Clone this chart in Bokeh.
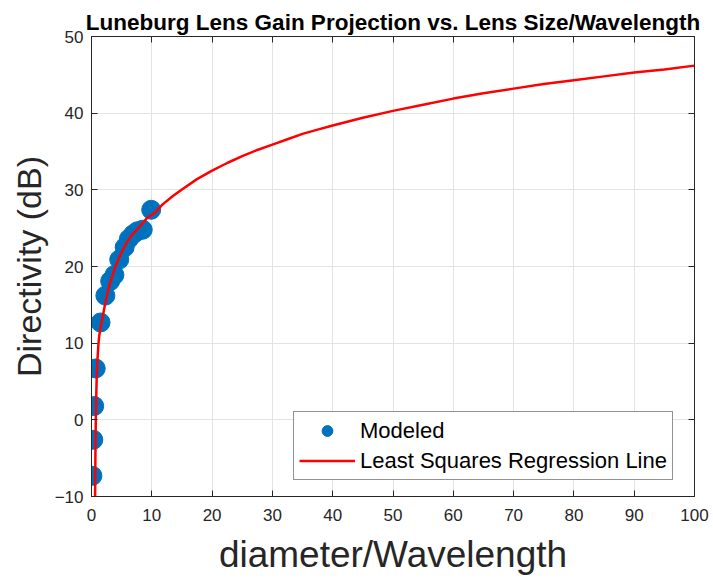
from bokeh.plotting import figure
from bokeh.models import ColumnDataSource, Legend, LegendItem, LinearAxis, Range1d, FixedTicker, CustomJSTickFormatter
from bokeh.embed import file_html
from bokeh.resources import INLINE

# Modeled data points
modeled_x = [0.15, 0.3, 0.45, 0.7, 1.5, 2.3, 3.1, 3.8, 4.6, 5.5, 6.2, 6.9, 7.6, 8.5, 9.9]
modeled_y = [-7.3, -2.6, 1.8, 6.7, 12.7, 16.2, 18.1, 18.9, 20.9, 22.5, 23.6, 24.2, 24.6, 24.8, 27.4]

# Regression line
fit_x = [0.58, 0.6, 0.65, 0.71, 0.8, 0.88, 1.0, 1.16, 1.28, 1.4, 1.6, 1.82, 2.1, 2.37, 2.7, 3.04,
         3.5, 3.92, 4.5, 5.15, 5.9, 6.8, 8.0, 9.3, 10.5, 11.8, 13.5, 15, 17.5, 20, 22.5, 25, 27.5,
         30, 32.5, 35, 37.5, 40, 45, 50, 55, 60, 65, 70, 75, 80, 85, 90, 95, 100]
fit_y = [-12.0, -10.0, -4.5, 0.0, 3.5, 6.1, 8.0, 10.0, 10.9, 11.6, 12.5, 13.3, 14.5, 15.5, 16.7, 17.7,
         18.9, 19.9, 21.0, 22.1, 23.2, 24.2, 25.2, 26.4, 27.0, 28.1, 29.2, 30.05, 31.4, 32.5, 33.5, 34.4, 35.2,
         35.9, 36.6, 37.3, 37.85, 38.4, 39.4, 40.3, 41.1, 41.9, 42.6, 43.2, 43.8, 44.3, 44.8, 45.3, 45.7, 46.2]

x_ticks = list(range(0, 101, 10))
y_ticks = list(range(-10, 51, 10))

FONT = "Liberation Sans"
TXT = "#262626"
AX = "#262626"

p = figure(width=713, height=582, output_backend="svg", toolbar_location=None,
           x_range=Range1d(0, 100), y_range=Range1d(-10, 50),
           min_border_left=91, min_border_right=19, min_border_top=36, min_border_bottom=86)

p.title.text = "Luneburg Lens Gain Projection vs. Lens Size/Wavelength"
p.title.align = "center"
p.title.text_font = FONT
p.title.text_font_size = "22.5px"
p.title.text_font_style = "bold"
p.title.text_color = "#000000"
p.title.offset = 10
p.title.standoff = 4

p.outline_line_color = AX
p.outline_line_width = 1
p.background_fill_color = "white"
p.border_fill_color = "white"

p.xgrid.ticker = FixedTicker(ticks=x_ticks)
p.ygrid.ticker = FixedTicker(ticks=y_ticks)
for g in (p.xgrid, p.ygrid):
    g.grid_line_color = "#e3e3e3"
    g.grid_line_width = 1

def style_axis(ax, ticks, show_labels=True):
    ax.ticker = FixedTicker(ticks=ticks)
    ax.major_tick_in = 6
    ax.major_tick_out = 0
    ax.minor_tick_in = 0
    ax.minor_tick_out = 0
    ax.axis_line_color = AX
    ax.major_tick_line_color = AX
    ax.major_label_text_font = FONT
    ax.major_label_text_font_size = "17px"
    ax.major_label_text_color = TXT
    ax.axis_label_text_font = FONT
    ax.axis_label_text_font_style = "normal"
    ax.axis_label_text_color = TXT
    if not show_labels:
        ax.major_label_text_font_size = "0px"
        ax.major_label_standoff = 0

style_axis(p.xaxis[0], x_ticks)
style_axis(p.yaxis[0], y_ticks)
p.xaxis[0].axis_label = "diameter/Wavelength"
p.xaxis[0].axis_label_text_font_size = "37px"
p.xaxis[0].major_label_standoff = 12
p.xaxis[0].axis_label_standoff = 10
p.yaxis[0].axis_label = "Directivity (dB)"
p.yaxis[0].axis_label_text_font_size = "34px"
p.yaxis[0].major_label_standoff = 8
p.yaxis[0].axis_label_standoff = 4

top_ax = LinearAxis()
right_ax = LinearAxis()
style_axis(top_ax, x_ticks, show_labels=False)
style_axis(right_ax, y_ticks, show_labels=False)
top_ax.formatter = CustomJSTickFormatter(code="return ''")
right_ax.formatter = CustomJSTickFormatter(code="return ''")
p.add_layout(top_ax, "above")
p.add_layout(right_ax, "right")

line_src = ColumnDataSource(dict(x=fit_x, y=fit_y))
pt_src = ColumnDataSource(dict(x=modeled_x, y=modeled_y))

r_line = p.line("x", "y", source=line_src, line_color="#ff0000", line_width=2.5, line_join="round")
r_pts = p.scatter("x", "y", source=pt_src, size=19, fill_color="#0072bd", line_color="#0072bd")
p.renderers.remove(r_line)
p.renderers.append(r_line)

legend = Legend(items=[LegendItem(label="Modeled", renderers=[r_pts]),
                       LegendItem(label="Least Squares Regression Line", renderers=[r_line])],
                location=(202, 16))
legend.label_text_font = FONT
legend.label_text_font_size = "22px"
legend.label_text_color = "#000000"
legend.glyph_width = 56
legend.glyph_height = 27
legend.spacing = 3
legend.padding = 5
legend.margin = 0
legend.label_standoff = 5
legend.border_line_color = "#262626"
legend.border_line_width = 1
legend.background_fill_alpha = 1
p.add_layout(legend)

open("out.html", "w").write(file_html(p, INLINE))
